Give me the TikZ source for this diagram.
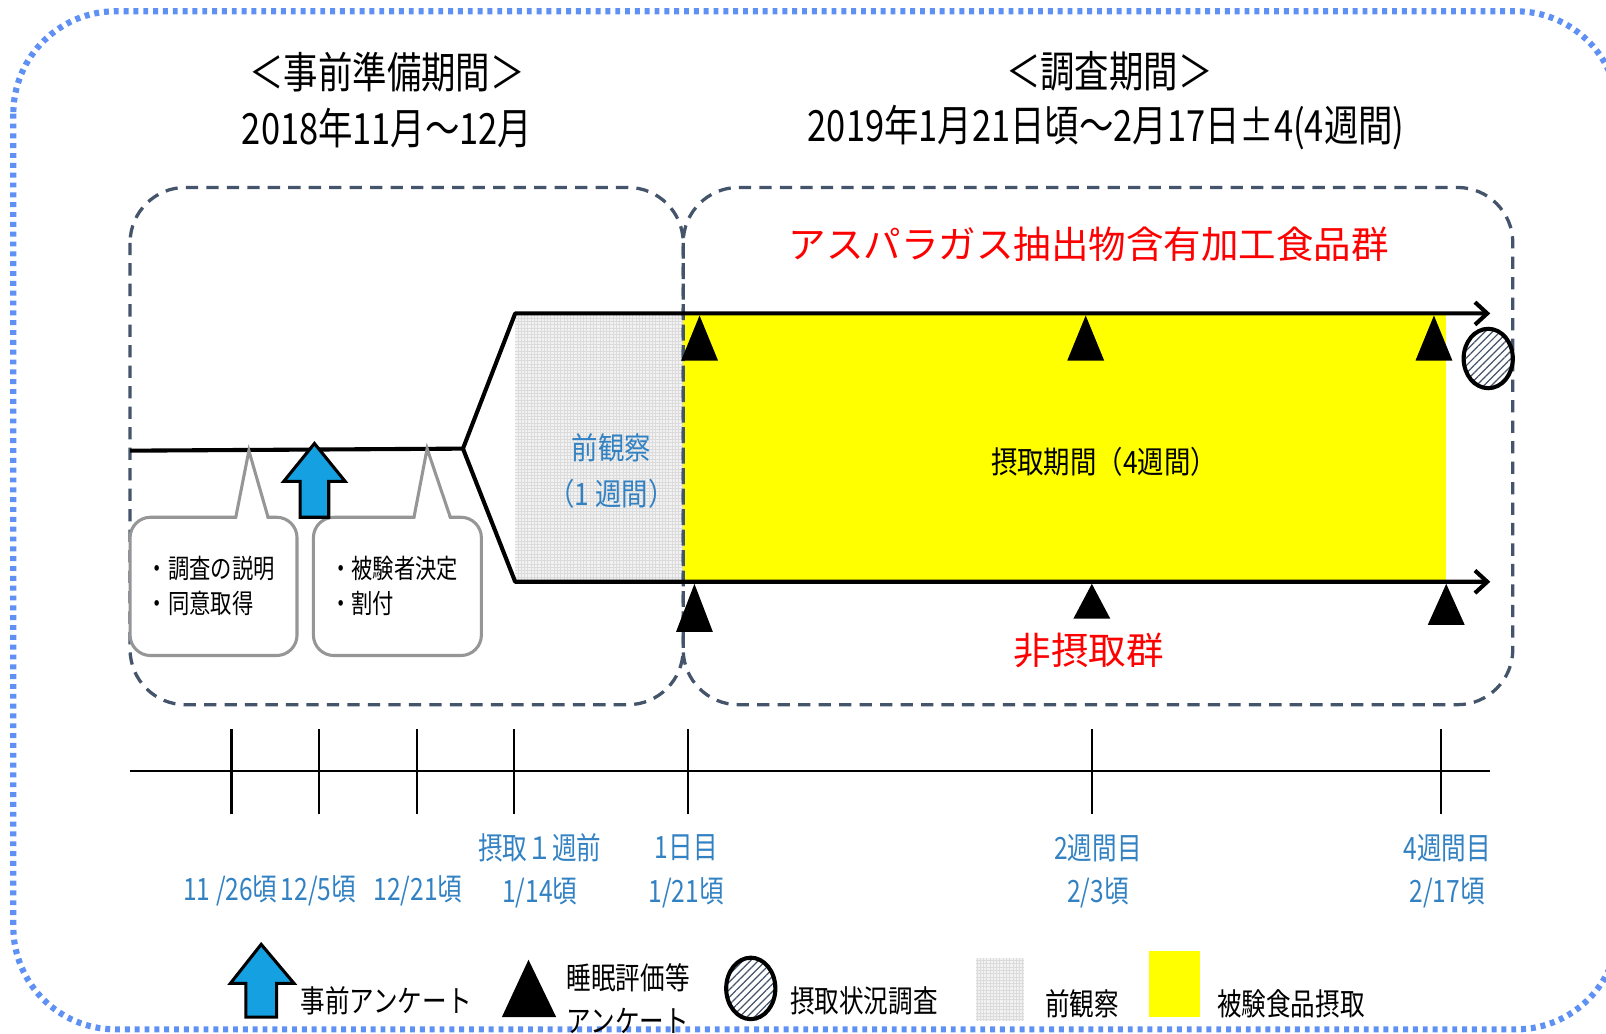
\documentclass[tikz,border=0pt]{standalone}
\usepackage{fontspec}
\usetikzlibrary{arrows.meta,patterns.meta}
\newfontfamily\jp{Noto Sans CJK JP}
\newfontfamily\jpA[FakeStretch=0.80]{Noto Sans CJK JP}
\newfontfamily\jpB[FakeStretch=0.86]{Noto Sans CJK JP}
\definecolor{outerblue}{RGB}{95,145,245}
\definecolor{dashgray}{HTML}{44546A}
\definecolor{lblue}{RGB}{50,130,195}
\definecolor{arrowblue}{RGB}{20,160,225}
\definecolor{callgray}{RGB}{150,150,150}
\definecolor{obsgray}{RGB}{242,242,242}
\definecolor{foodyellow}{RGB}{255,255,0}
\begin{document}
\begin{tikzpicture}[x=0.5pt,y=-0.5pt,
  titlestyle/.style={font=\jpA\fontsize{21}{24}\selectfont,inner sep=0pt},
  redlabel/.style={font=\jp\fontsize{18.3}{22}\selectfont,text=red,inner sep=0pt},
  midlabel/.style={font=\jpB\fontsize{15}{18}\selectfont,inner sep=0pt},
  obslabel/.style={font=\jpB\fontsize{15}{18}\selectfont,text=lblue,inner sep=0pt},
  calltext/.style={font=\jpA\fontsize{13}{17.5}\selectfont,align=left,inner sep=0pt,anchor=west},
  axlabel/.style={font=\jpA\fontsize{15}{18}\selectfont,text=lblue,inner sep=0pt},
  legtext/.style={font=\jpA\fontsize{15}{18}\selectfont,inner sep=0pt,anchor=west},
  outerline/.style={draw=outerblue,line width=3pt,dash pattern=on 2.4pt off 2.4pt},
  groupbox/.style={draw=dashgray,line width=1.6pt,dash pattern=on 6pt off 4pt,rounded corners=27pt},
  flow/.style={line width=2pt,line join=round},
  flowarrow/.style={flow,-{Straight Barb[length=6pt,width=11pt,line width=2pt]}},
  marker/.style={fill=black},
  hatchcircle/.style={draw=black,line width=2pt,preaction={fill=white},pattern={Lines[angle=45,distance=2.6pt,line width=0.6pt]},pattern color=dashgray},
  callbox/.style={draw=callgray,line width=1.5pt,fill=white,rounded corners=10pt},
  callptr/.style={draw=callgray,line width=1.5pt,line join=miter},
  upblue/.style={draw=black,line width=1.5pt,fill=arrowblue,line join=miter},
  axis/.style={line width=1pt},
  gridfill/.style={draw=gray!28,line width=0.2pt}
]
\useasboundingbox (0,0) rectangle (1568,1009);
\fill[white] (0,0) rectangle (1568,1009);

% outer dotted frame
\draw[outerline,rounded corners=50pt] (13,11) rectangle (1580,1005);

% titles
\node[titlestyle] (t1) at (378,70) {＜事前準備期間＞};
\node[titlestyle] (t2) at (378,125) {2018年11月～12月};
\node[titlestyle] (t3) at (1083,70) {＜調査期間＞};
\node[titlestyle] (t4) at (1080,125) {2019年1月21日頃～2月17日±4(4週間)};

% fills
\fill[obsgray] (503,306) rectangle (667,568);
\draw[gridfill,step=1.6pt] (503,306) grid (667,568);
\fill[foodyellow] (667,307) rectangle (1412,567);

% group boxes
\draw[groupbox] (127,183) rectangle (667,688);
\draw[groupbox] (667,183) rectangle (1477,688);

% flow lines
\coordinate (L0) at (127,440);
\coordinate (Sp) at (452,438);
\coordinate (Tu) at (503,306);
\coordinate (Tl) at (503,568);
\coordinate (Eu) at (1455,306);
\coordinate (El) at (1455,568);
\draw[flow] (L0) -- (Sp);
\draw[flowarrow] (Sp) -- (Tu) -- (Eu);
\draw[flowarrow] (Sp) -- (Tl) -- (El);

% triangles (upper group)
\foreach \x in {683,1060,1400} \fill[marker] (\x,308) -- (\x-18,352) -- (\x+18,352) -- cycle;
% triangles (lower group)
\fill[marker] (678,570) -- (660,617) -- (696,617) -- cycle;
\fill[marker] (1066,570) -- (1048,604) -- (1084,604) -- cycle;
\fill[marker] (1412,570) -- (1394,610) -- (1430,610) -- cycle;

% intake survey circle
\path[hatchcircle] (1453,350) ellipse [x radius=24, y radius=29];

% middle labels
\node[midlabel] (m1) at (1078,451) {摂取期間（4週間）};
\node[obslabel] (o1) at (597,437) {前観察};
\node[obslabel] (o2) at (597,482) {（1 週間）};
\node[redlabel] (g1) at (1063,238) {アスパラガス抽出物含有加工食品群};
\node[redlabel] (g2) at (1063,635) {非摂取群};

% callouts
\draw[callbox] (127,505) rectangle (290,640);
\fill[white] (231,508) -- (243,442) -- (261,508) -- cycle;
\draw[callptr] (230,506) -- (243,440) -- (262,506);
\node[calltext] (c1) at (143,572) {・調査の説明\\・同意取得};

\draw[callbox] (306,505) rectangle (470,640);
\fill[white] (405,508) -- (417,440) -- (439,508) -- cycle;
\draw[callptr] (404,506) -- (417,438) -- (440,506);
\node[calltext] (c2) at (322,572) {・被験者決定\\・割付};

% pre-questionnaire arrow
\draw[upblue] (307,433) -- (337,470) -- (321,470) -- (321,505) -- (293,505) -- (293,470) -- (277,470) -- cycle;

% time axis
\draw[axis] (127,753) -- (1455,753);
\foreach \x in {226,311,407,502,672,1066,1407} \draw[axis] (\x,712) -- (\x,795);

\node[axlabel] (a1) at (225,870) {11 /26頃};
\node[axlabel] (a2) at (311,870) {12/5頃};
\node[axlabel] (a3) at (408,870) {12/21頃};
\node[axlabel] (a4) at (527,828) {摂取１週前};
\node[axlabel] (a5) at (527,872) {1/14頃};
\node[axlabel] (a6) at (670,828) {1日目};
\node[axlabel] (a7) at (670,872) {1/21頃};
\node[axlabel] (a8) at (1072,828) {2週間目};
\node[axlabel] (a9) at (1072,872) {2/3頃};
\node[axlabel] (a10) at (1413,828) {4週間目};
\node[axlabel] (a11) at (1413,872) {2/17頃};

% legend
\draw[upblue] (255,922) -- (287,960) -- (270,960) -- (270,993) -- (240,993) -- (240,960) -- (225,960) -- cycle;
\node[legtext] (l1) at (293,977) {事前アンケート};
\fill[marker] (516,937) -- (490,993) -- (543,993) -- cycle;
\node[legtext] (l2) at (553,955) {睡眠評価等};
\node[legtext] (l3) at (553,997) {アンケート};
\path[hatchcircle] (733,965) ellipse [x radius=24, y radius=30];
\node[legtext] (l4) at (771,977) {摂取状況調査};
\fill[obsgray] (953,935) rectangle (1000,997);
\draw[gridfill,step=1.6pt] (953,935) grid (1000,997);
\node[legtext] (l5) at (1020,980) {前観察};
\fill[foodyellow] (1122,928) rectangle (1172,993);
\node[legtext] (l6) at (1188,980) {被験食品摂取};
\end{tikzpicture}
\end{document}
